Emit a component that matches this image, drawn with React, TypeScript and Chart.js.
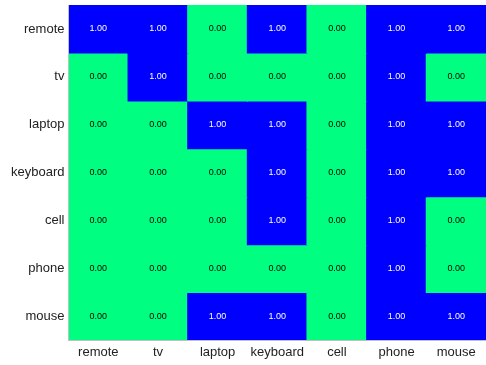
import React, { useEffect, useRef } from "react";
import { Chart, registerables } from "chart.js";

Chart.register(...registerables);

const columns = ["remote", "tv", "laptop", "keyboard", "cell", "phone", "mouse"];
const rows = ["remote", "tv", "laptop", "keyboard", "cell", "phone", "mouse"];

const remoteRow = [1, 1, 0, 1, 0, 1, 1];
const tvRow = [0, 1, 0, 0, 0, 1, 0];
const laptopRow = [0, 0, 1, 1, 0, 1, 1];
const keyboardRow = [0, 0, 0, 1, 0, 1, 1];
const cellRow = [0, 0, 0, 1, 0, 1, 0];
const phoneRow = [0, 0, 0, 0, 0, 1, 0];
const mouseRow = [0, 0, 1, 1, 0, 1, 1];

const matrix = [remoteRow, tvRow, laptopRow, keyboardRow, cellRow, phoneRow, mouseRow];

const HIGH = "#0000ff";
const LOW = "#00ff80";

const cellText = {
  id: "cellText",
  afterDatasetsDraw(chart: any) {
    const ctx = chart.ctx;
    ctx.save();
    ctx.font = "9px 'Liberation Sans', Arial, sans-serif";
    ctx.textAlign = "center";
    ctx.textBaseline = "middle";
    chart.data.datasets.forEach((ds: any, r: number) => {
      const meta = chart.getDatasetMeta(r);
      meta.data.forEach((el: any, c: number) => {
        const v = matrix[r][c];
        const y = (el.y + el.base) / 2;
        ctx.fillStyle = v ? "#ffffff" : "#000000";
        ctx.fillText(v.toFixed(2), el.x, y);
      });
    });
    ctx.restore();
  },
};

export default function App() {
  const ref = useRef<HTMLCanvasElement>(null);
  useEffect(() => {
    document.body.style.margin = "0";
    const chart = new Chart(ref.current!, {
      type: "bar",
      data: {
        labels: columns,
        datasets: matrix.map((vals, r) => ({
          label: rows[r],
          data: columns.map(() => [r - 0.5, r + 0.5]),
          backgroundColor: vals.map((v) => (v ? HIGH : LOW)),
          borderWidth: 0,
          inflateAmount: 0.6,
          barPercentage: 1,
          categoryPercentage: 1,
          grouped: false,
        })),
      } as any,
      options: {
        animation: false,
        responsive: false,
        maintainAspectRatio: false,
        layout: { padding: { top: 5, right: 0, left: 7, bottom: 1 } },
        plugins: { legend: { display: false }, tooltip: { enabled: false } },
        scales: {
          x: {
            type: "category",
            offset: true,
            grid: { display: false, drawTicks: false },
            border: { display: true, color: "#c0c0c0", z: 1 },
            ticks: {
              color: "#222",
              font: { family: "'Liberation Sans', Arial, sans-serif", size: 13 },
              padding: 4,
              maxRotation: 0,
              autoSkip: false,
            },
          },
          y: {
            type: "linear",
            min: -0.5,
            max: 6.5,
            reverse: true,
            grid: { display: false, drawTicks: false },
            border: { display: true, color: "#c0c0c0", z: 1 },
            afterBuildTicks: (axis: any) => {
              axis.ticks = rows.map((_, i) => ({ value: i }));
            },
            afterFit: (axis: any) => {
              axis.paddingTop = 0;
              axis.paddingBottom = 0;
            },
            ticks: {
              color: "#222",
              font: { family: "'Liberation Sans', Arial, sans-serif", size: 13 },
              padding: 4,
              callback: (v: any) => rows[Math.round(Number(v))] ?? "",
            },
          },
        },
      } as any,
      plugins: [cellText],
    });
    return () => chart.destroy();
  }, []);
  return <canvas ref={ref} width={486} height={365} style={{ display: "block" }} />;
}
